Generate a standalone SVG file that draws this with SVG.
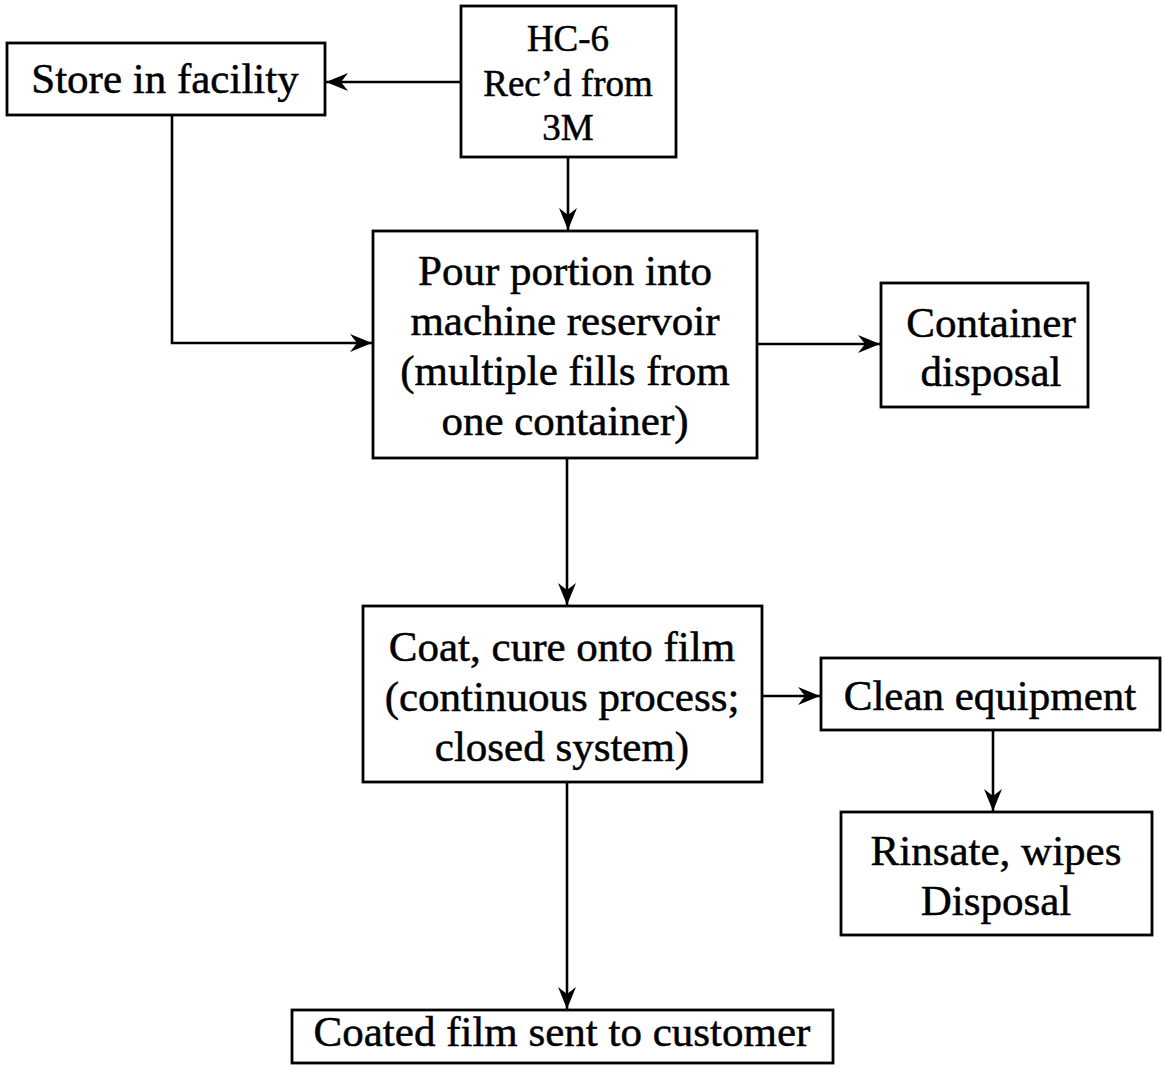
<svg xmlns="http://www.w3.org/2000/svg" width="1164" height="1067" viewBox="0 0 1164 1067">
  <style>
    .box { fill: #fff; stroke: #000; stroke-width: 2.8; }
    .lbl { font-family: "Liberation Serif", "Times New Roman", serif; font-size: 43px; fill: #000; stroke: #000; stroke-width: 0.5; text-anchor: middle; }
    .sm { font-size: 37px; }
    .edge { fill: none; stroke: #000; stroke-width: 2.6; }
  </style>
  <defs>
    <marker id="arrow" viewBox="0 0 22 18" refX="22" refY="9" markerWidth="22" markerHeight="18" markerUnits="userSpaceOnUse" orient="auto">
      <path d="M0,0 L22,9 L0,18 L7,9 Z" fill="#000"/>
    </marker>
  </defs>
  <rect width="1164" height="1067" fill="#fff"/>

  <g id="connectors">
    <path class="edge" d="M461,82 H326" marker-end="url(#arrow)"/>
    <path class="edge" d="M568,157 V230" marker-end="url(#arrow)"/>
    <path class="edge" d="M172,115 V343 H372" marker-end="url(#arrow)"/>
    <path class="edge" d="M757,344 H880" marker-end="url(#arrow)"/>
    <path class="edge" d="M567,458 V605" marker-end="url(#arrow)"/>
    <path class="edge" d="M762,696 H820" marker-end="url(#arrow)"/>
    <path class="edge" d="M993,730 V811" marker-end="url(#arrow)"/>
    <path class="edge" d="M567,782 V1009" marker-end="url(#arrow)"/>
  </g>

  <g id="store">
    <rect class="box" x="7" y="43" width="318" height="72"/>
    <text class="lbl" x="165" y="93">Store in facility</text>
  </g>

  <g id="received">
    <rect class="box" x="461" y="6" width="215" height="151"/>
    <text class="lbl sm" x="568" y="51">HC-6</text>
    <text class="lbl sm" x="568" y="96">Rec’d from</text>
    <text class="lbl sm" x="568" y="140">3M</text>
  </g>

  <g id="pour">
    <rect class="box" x="373" y="231" width="384" height="227"/>
    <text class="lbl" x="565" y="285">Pour portion into</text>
    <text class="lbl" x="565" y="335">machine reservoir</text>
    <text class="lbl" x="565" y="385">(multiple fills from</text>
    <text class="lbl" x="565" y="435">one container)</text>
  </g>

  <g id="container-disposal">
    <rect class="box" x="881" y="283" width="207" height="124"/>
    <text class="lbl" x="991" y="337">Container</text>
    <text class="lbl" x="991" y="386">disposal</text>
  </g>

  <g id="coat">
    <rect class="box" x="363" y="606" width="399" height="176"/>
    <text class="lbl" x="562" y="661">Coat, cure onto film</text>
    <text class="lbl" x="562" y="711">(continuous process;</text>
    <text class="lbl" x="562" y="761">closed system)</text>
  </g>

  <g id="clean">
    <rect class="box" x="821" y="658" width="339" height="72"/>
    <text class="lbl" x="990" y="710">Clean equipment</text>
  </g>

  <g id="rinsate">
    <rect class="box" x="841" y="812" width="311" height="123"/>
    <text class="lbl" x="996" y="865">Rinsate, wipes</text>
    <text class="lbl" x="996" y="915">Disposal</text>
  </g>

  <g id="shipped">
    <rect class="box" x="292" y="1010" width="541" height="53"/>
    <text class="lbl" x="562" y="1046">Coated film sent to customer</text>
  </g>
</svg>
